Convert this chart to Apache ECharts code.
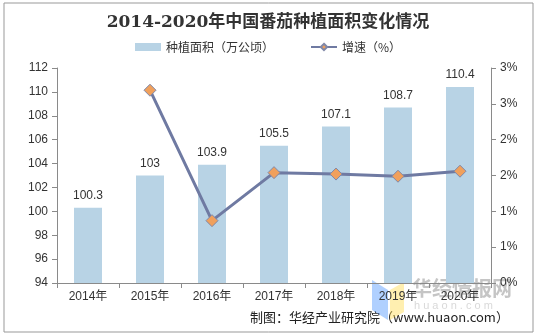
<!DOCTYPE html>
<html><head><meta charset="utf-8">
<script src="https://cdn.jsdelivr.net/npm/echarts@6/dist/echarts.min.js"></script>
<style>html,body{margin:0;padding:0;background:#fff}#c{width:536px;height:336px}</style>
</head><body><div id="c"></div>
<script>
var categories = ['2014年','2015年','2016年','2017年','2018年','2019年','2020年'];
var area = [100.3, 103, 103.9, 105.5, 107.1, 108.7, 110.4];
var growth = [null, 2.69, 0.87, 1.54, 1.52, 1.49, 1.56];
var titleText = '2014-2020年中国番茄种植面积变化情况';
var areaName = '种植面积（万公顷）';
var growthName = '增速（%）';
var sourceText = '制图：华经产业研究院（www.huaon.com）';

var chart = echarts.init(document.getElementById('c'), null, {renderer:'canvas'});
var axisCol = '#8a8a8a';
chart.setOption({
  animation:false,
  backgroundColor:'#fff',
  title:{text:titleText,left:'center',top:9,textStyle:{fontFamily:'"DejaVu Serif","Noto Sans CJK SC",serif',fontSize:17,fontWeight:'bold',color:'#333'}},
  legend:{top:36,left:'center',itemGap:36,itemWidth:26,itemHeight:8,textStyle:{fontSize:12,color:'#333',fontFamily:'"Noto Sans CJK SC",sans-serif'},
    data:[{name:areaName,icon:'rect'},{name:growthName}]},
  grid:{left:57,right:45,top:68,bottom:53},
  xAxis:{type:'category',data:categories,axisLine:{lineStyle:{color:axisCol}},axisTick:{show:true,interval:0,length:5,lineStyle:{color:axisCol}},
    axisLabel:{color:'#333',fontSize:12,margin:8,fontFamily:'Arial,"Liberation Sans","Noto Sans CJK SC",sans-serif'}},
  yAxis:[
    {type:'value',min:94,max:112,interval:2,splitLine:{show:false},axisLine:{show:true,lineStyle:{color:axisCol}},axisTick:{show:true,length:5,lineStyle:{color:axisCol}},
      axisLabel:{color:'#333',fontSize:12,margin:9,fontFamily:'Arial,"Liberation Sans",sans-serif'}},
    {type:'value',min:0,max:3,interval:0.5,splitLine:{show:false},axisLine:{show:true,lineStyle:{color:axisCol}},axisTick:{show:true,length:5,lineStyle:{color:axisCol}},
      axisLabel:{color:'#333',fontSize:12,margin:9,fontFamily:'Arial,"Liberation Sans",sans-serif',formatter:function(v){return Math.round(v)+'%';}}}
  ],
  series:[
    {name:areaName,type:'bar',data:area,barWidth:28,itemStyle:{color:'#B8D3E5'},
      label:{show:true,position:'top',distance:6,color:'#333',fontSize:12,fontFamily:'Arial,"Liberation Sans",sans-serif'}},
    {name:growthName,type:'line',yAxisIndex:1,data:growth,symbol:'diamond',symbolSize:12,connectNulls:false,
      lineStyle:{color:'#6F7AA2',width:3},itemStyle:{color:'#F0A05C',borderColor:'#8088A8',borderWidth:1}}
  ],
  graphic:[
    {type:'rect',shape:{x:4,y:3,width:529,height:329},style:{fill:'none',stroke:'#999',lineWidth:1}},
    {type:'text',left:250,top:311,style:{text:sourceText,fontSize:13,fill:'#222',fontFamily:'"Noto Sans CJK SC",sans-serif'}},
    {type:'text',left:412,top:278,style:{text:'华经情报网',fontSize:20,fontWeight:'bold',fill:'rgba(150,150,150,0.55)',fontFamily:'"Noto Sans CJK SC",sans-serif'}},
    {type:'text',left:414,top:300,style:{text:'h u a o n . c o m',fontSize:11,fill:'rgba(180,180,180,0.5)',fontFamily:'Arial,sans-serif'}},
    {type:'polygon',shape:{points:[[372,280],[388,290],[388,320],[372,310]]},style:{fill:'rgba(80,150,255,0.45)'}},
    {type:'polygon',shape:{points:[[390,290],[404,282],[404,312],[390,320]]},style:{fill:'rgba(255,220,80,0.45)'}}
  ]
});
</script></body></html>
